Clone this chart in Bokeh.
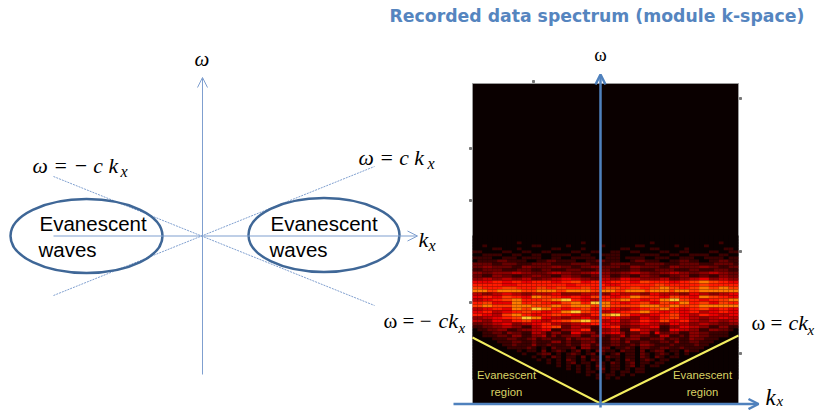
from bokeh.plotting import figure
from bokeh.models import Range1d, Arrow, OpenHead, ColumnDataSource, LinearColorMapper
from bokeh.transform import transform
from bokeh.core.properties import value
from bokeh.embed import file_html
from bokeh.resources import INLINE

# Spectrum magnitude, one string per band (0 = black ... 9 = yellow)
spectrum_rows = [
    "000000000000000000000000000000000000000000000000000000",
    "000000000000000000000000000000000000000000000000000000",
    "000000000100000000000010000000000000100000000000001000",
    "001000000000110000010000001000000110000001000001000000",
    "000011000100000011000010000000110000110000010000000110",
    "110000110011001100001100110011001100001100110000110011",
    "001111001100110011110011001111000011110011001111001100",
    "111100111011110011001111100111011110011100111001111011",
    "011112211110011221111001122111001221110011221100112211",
    "222211222111222211112222111122221112222111222211122221",
    "223322221133222233221122332222113322221133222233221122",
    "112222111222112211122211122211112211122221112211122211",
    "332233334433222344332233443322334433223344332233443322",
    "221133221122332211332211223311221133221122331122113322",
    "334433443344223344554433224433554433334422334455334433",
    "555566556655666655667755665566665577666655667788776655",
    "666666555666666666655666666555666666677666666677666666",
    "776666777666677667766677666777667766778877667788778877",
    "888778888877788887788888778887788887888878887788888888",
    "443344554433444455333344443355444433554444335544334455",
    "556655776655887766556655776655668877665577665588776655",
    "445566778866667788996655446677886655668899776655667788",
    "667755558866776655778866998866556677557766886677557766",
    "778877778888777788778888778877777788887788777788888888",
    "445566558877998866556677556655445566778866556677556655",
    "556644556677665566889977664455667788665566556644556655",
    "665544778866556677665544668899775544556677554466554455",
    "334455667799885544334455446655443355446677554433445544",
    "443355446677554466778899774455334466557755664433443344",
    "223344553344556644334455665544334455443355443344332233",
    "112233443311446677224433115566223344551133554433113311",
    "011223311233445511334466113344116644331155443311332210",
    "001122132211443133115533314455312244152233113322111100",
    "001112213311334131223311332122413322114411213322111100",
    "000011122112312211131233211133123311223122113221110000",
    "000001112211211133121122311122131122112213112211100000",
    "000000112111311211121133121122112133211121111211000000",
    "000000011112101021112033112201121022112211211110000000",
    "000000000101102012101201022110211020122011021100000000",
    "000000000010012201012101201012011021012101010000000000",
    "000000000000101021011020110211011021021011000000000000",
    "000000000000010101021010210101021012101100000000000000",
    "000000000000000101012011011021012011011000000000000000",
    "000000000000000001010101021011012010110000000000000000",
    "000000000000000000010101012011010110000000000000000000",
    "000000000000000000000101101010110110000000000000000000",
    "000000000000000000000001010110101000000000000000000000",
    "000000000000000000000000010101000000000000000000000000",
]
hot_palette = ["#0a0000", "#3c0000", "#680000", "#8a0000", "#b80000", "#e60000",
               "#ff1a00", "#ff3c00", "#ff7a00", "#ffc830"]

title_text = "Recorded data spectrum (module k-space)"
region_word_1 = "Evanescent"
region_word_2 = "waves"
region_word_3 = "region"

tick_right_y = [98, 251, 353]
tick_left_y = [148, 200, 302]
tick_top_x = [533]

BLUE_THIN = "#7f9fcf"
BLUE_DARK = "#3f6797"
BLUE_AXIS = "#4f81bd"
YELLOW = "#f4ee60"
YELLOW_TXT = "#d9d264"

p = figure(width=816, height=410, x_range=Range1d(0, 816), y_range=Range1d(410, 0),
           toolbar_location=None, output_backend="svg", min_border=0,
           border_fill_color="white", background_fill_color="white", outline_line_color=None)
p.xaxis.visible = False
p.yaxis.visible = False
p.grid.visible = False

def txt(x, y, s, size, color="black", font="Liberation Serif", style="normal", align="left"):
    p.text([x], [y - 0.36 * size], text=[s], text_font=value(font), text_font_size=f"{size}px",
           text_font_style=style, text_color=color, text_align=align, text_baseline="alphabetic")

def arrow(x0, y0, x1, y1, color, width, size):
    p.add_layout(Arrow(end=OpenHead(size=size, line_color=color, line_width=width),
                       x_start=x0, y_start=y0, x_end=x1, y_end=y1,
                       line_color=color, line_width=width))

# ---- left diagram ----
p.line([53, 374], [176, 305], line_color=BLUE_THIN, line_width=1, line_dash="2 1")
p.line([53, 374], [295, 166], line_color=BLUE_THIN, line_width=1, line_dash="2 1")
arrow(202, 374, 202, 77, BLUE_THIN, 1, 10)
arrow(53, 235.5, 417, 235.5, BLUE_THIN, 1, 10)
p.ellipse([86, 323.5], [235.5, 234.5], width=[152, 151], height=[74, 74],
          fill_color=None, line_color=BLUE_DARK, line_width=2.5)
for x0 in (39, 270):
    txt(x0, 230, region_word_1, 20.5, font="Liberation Sans")
    txt(x0 - 1, 256, region_word_2, 20.5, font="Liberation Sans")

txt(194, 66, "ω", 21, style="italic")
txt(32, 173, "ω = − c k", 21.7, style="italic")
txt(120, 177, "x", 16, style="italic")
txt(358, 165, "ω = c k", 21.7, style="italic")
txt(427, 169, "x", 16, style="italic")
txt(418, 247, "k", 22, style="italic")
txt(428, 251, "x", 16, style="italic")

# ---- right spectrum ----
X0, Y0, CW, CH = 472, 235, 266 / 54, 3
lefts, rights, tops, bottoms, vals = [], [], [], [], []
for r, row in enumerate(spectrum_rows):
    for c, ch in enumerate(row):
        lefts.append(X0 + c * CW); rights.append(X0 + (c + 1) * CW)
        tops.append(Y0 + r * CH); bottoms.append(Y0 + (r + 1) * CH)
        vals.append(int(ch))
p.quad(left=[472], right=[738], top=[83], bottom=[403], fill_color="#0a0000", line_color="#9a9a9a", line_width=1)
mapper = LinearColorMapper(palette=hot_palette, low=0, high=9.99)
src = ColumnDataSource(dict(left=lefts, right=rights, top=tops, bottom=bottoms, v=vals))
p.quad(left="left", right="right", top="top", bottom="bottom", source=src,
       fill_color=transform("v", mapper), line_color=None)

p.scatter([740] * len(tick_right_y), tick_right_y, size=2, color="#777777", marker="square")
p.scatter([470] * len(tick_left_y), tick_left_y, size=2, color="#777777", marker="square")
p.scatter(tick_top_x, [81] * len(tick_top_x), size=2, color="#777777", marker="square")

p.line([472, 600], [337, 403], line_color=YELLOW, line_width=2)
p.line([600, 738], [403, 335], line_color=YELLOW, line_width=2)
arrow(600, 407, 600, 74, BLUE_AXIS, 2.5, 10)
arrow(453, 403.5, 758, 403.5, BLUE_AXIS, 2.5, 10)

txt(506, 379, region_word_1, 11.3, YELLOW_TXT, "Liberation Sans", align="center")
txt(506, 396, region_word_3, 11.3, YELLOW_TXT, "Liberation Sans", align="center")
txt(702, 379, region_word_1, 11.3, YELLOW_TXT, "Liberation Sans", align="center")
txt(702, 396, region_word_3, 11.3, YELLOW_TXT, "Liberation Sans", align="center")

txt(600, 61, "ω", 19, align="center")
txt(383, 328, "ω = − ", 21)
txt(438, 328, "ck", 22, style="italic")
txt(458, 333, "x", 15, style="italic")
txt(751, 330, "ω = ", 21)
txt(788, 330, "ck", 22, style="italic")
txt(807, 335, "x", 15, style="italic")
txt(765, 405, "k", 23, style="italic")
txt(776, 406, "x", 15, style="italic")

txt(389, 22, title_text, 17.3, "#5585bf", "DejaVu Sans", "bold")

open("out.html", "w").write(file_html(p, INLINE))
